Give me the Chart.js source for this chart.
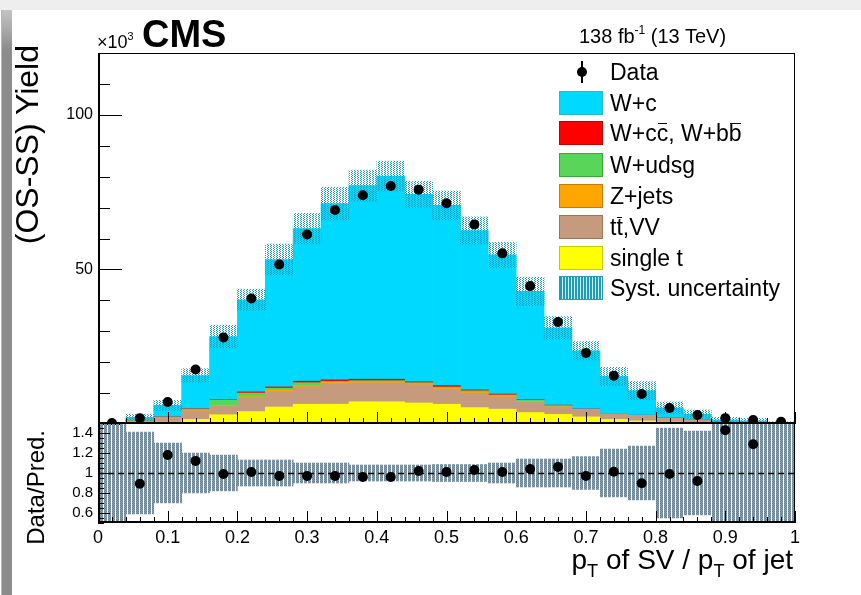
<!DOCTYPE html>
<html>
<head>
<meta charset="utf-8">
<script src="https://cdn.jsdelivr.net/npm/chart.js@4.4.1/dist/chart.umd.min.js"></script>
<style>
  body { margin: 0; background: #fff; width: 861px; height: 595px; overflow: hidden; position: relative;
         font-family: "Liberation Sans", Arial, Helvetica, sans-serif; color: #000; }
  .abs { position: absolute; white-space: nowrap; }
  #topbar { left: 0; top: 0; width: 861px; height: 10px; background: #eeeeee; }
  #leftbar { left: 1px; top: 10px; width: 10px; height: 585px; background: linear-gradient(#c4c4c4, #8c8c8c 40px, #8c8c8c); border-left: 1px solid #b5b5b5; }
  .ob { position: relative; }
  .ob::after { content: ''; position: absolute; left: 1px; right: 1px; top: 3px; border-top: 1.5px solid #000; }
  .leg { position: absolute; left: 610px; font-size: 23px; line-height: 26px; white-space: nowrap; }
  .box { position: absolute; left: 559px; width: 42px; height: 22px; border: 1px solid; }
  sup { font-size: 60%; vertical-align: 0.75em; line-height: 0; }
  sub { font-size: 65%; vertical-align: -0.45em; line-height: 0; }
</style>
</head>
<body>
<div id="topbar" class="abs"></div>
<div id="leftbar" class="abs"></div>
<canvas id="mainChart" class="abs" width="861" height="425" style="left:0;top:0"></canvas>
<canvas id="ratioChart" class="abs" width="861" height="175" style="left:0;top:420px"></canvas>

<div class="abs" style="left:142px;top:15px;font-size:38px;font-weight:bold;line-height:38px">CMS</div>
<div class="abs" style="left:97px;top:33px;font-size:18px;line-height:18px">&times;10<sup>3</sup></div>
<div class="abs" style="left:579px;top:26px;font-size:20px;line-height:20px">138 fb<sup>-1</sup> (13 TeV)</div>

<div class="abs" style="left:9px;top:305px;width:260px;text-align:right;font-size:32px;line-height:36px;transform-origin:0 0;transform:rotate(-90deg)">(OS-SS) Yield</div>
<div class="abs" style="left:22px;top:580px;width:150px;text-align:right;font-size:24px;line-height:28px;transform-origin:0 0;transform:rotate(-90deg)">Data/Pred.</div>
<div class="abs" style="right:68px;top:544px;font-size:28px;line-height:32px">p<sub>T</sub> of SV / p<sub>T</sub> of jet</div>

<!-- legend -->
<div class="abs" style="left:581px;top:61px;width:2px;height:22px;background:#000"></div>
<div class="abs" style="left:577px;top:67px;width:10px;height:10px;border-radius:50%;background:#000"></div>
<div class="leg" style="top:59px">Data</div>
<div class="box" style="top:91px;background:#00d9ff;border-color:#2ab7cf"></div>
<div class="leg" style="top:90px">W+c</div>
<div class="box" style="top:121px;background:#ff0000;border-color:#c00000"></div>
<div class="leg" style="top:120px">W+c<span class="ob">c</span>, W+b<span class="ob">b</span></div>
<div class="box" style="top:153px;background:#59d659;border-color:#38a838"></div>
<div class="leg" style="top:152px">W+udsg</div>
<div class="box" style="top:184px;background:#ffa500;border-color:#c47f00"></div>
<div class="leg" style="top:183px">Z+jets</div>
<div class="box" style="top:215px;background:#c59a7d;border-color:#9c7258"></div>
<div class="leg" style="top:214px">t<span class="ob">t</span>,VV</div>
<div class="box" style="top:246px;background:#ffff00;border-color:#c8c800"></div>
<div class="leg" style="top:245px">single t</div>
<div class="box" style="top:276px;background:repeating-linear-gradient(90deg,#1e9cb6 0 2px,#cdeef4 2px 3px);border-color:#1e9cb6"></div>
<div class="leg" style="top:275px">Syst. uncertainty</div>

<script>
// bins of width 0.04 in pT(SV)/pT(jet)
const binCenters = [0.02, 0.06, 0.10, 0.14, 0.18, 0.22, 0.26, 0.30, 0.34, 0.38, 0.42, 0.46, 0.50,
                    0.54, 0.58, 0.62, 0.66, 0.70, 0.74, 0.78, 0.82, 0.86, 0.90, 0.94, 0.98];

// yields in units of 10^3
const dataY  = [0.3, 1.9, 7.1, 17.6, 28.0, 40.6, 51.6, 61.3, 69.2, 74.0, 77.0, 75.8, 71.4,
                64.5, 55.2, 44.6, 33.0, 23.0, 15.6, 9.7, 5.2, 2.9, 1.9, 1.3, 0.7];
const singleT = [0.03, 0.2, 0.6, 1.5, 3.0, 4.0, 5.5, 6.4, 6.4, 7.2, 7.2, 6.8, 6.4,
                 5.3, 4.8, 3.7, 3.1, 2.3, 1.5, 1.0, 0.6, 0.35, 0.2, 0.12, 0.08];
const ttVV   = [0.05, 0.7, 1.2, 2.7, 2.8, 4.5, 5.0, 5.6, 6.7, 6.1, 6.1, 5.9, 4.9,
                4.7, 4.0, 3.4, 2.4, 2.1, 1.6, 1.6, 1.2, 0.85, 0.4, 0.28, 0.2];
const zJets  = [0.01, 0.05, 0.1, 0.15, 0.2, 0.3, 0.4, 0.35, 0.3, 0.3, 0.3, 0.3, 0.25,
                0.25, 0.2, 0.2, 0.15, 0.1, 0.08, 0.05, 0.04, 0.03, 0.02, 0.01, 0.01];
const wUdsg  = [0.01, 0.1, 0.3, 0.4, 1.7, 1.2, 0.7, 1.0, 0.4, 0.4, 0.4, 0.35, 0.4,
                0.5, 0.4, 0.4, 0.3, 0.25, 0.2, 0.15, 0.1, 0.08, 0.05, 0.03, 0.02];
const wCCbb  = [0.01, 0.05, 0.1, 0.15, 0.2, 0.4, 0.4, 0.5, 0.5, 0.5, 0.5, 0.3, 0.5,
                0.3, 0.3, 0.2, 0.15, 0.1, 0.08, 0.05, 0.04, 0.03, 0.02, 0.01, 0.01];
const wC     = [0.04, 1.03, 3.72, 10.8, 20.4, 29.8, 41.2, 49.35, 57.0, 62.6, 65.7, 60.65, 58.25,
                51.55, 45.0, 35.0, 25.0, 18.85, 11.94, 7.95, 3.27, 1.81, 0.64, 0.56, 0.03];

// relative uncertainties: hatched band on the stack, and band in the ratio panel
const systRel  = [1.0, 0.5, 0.27, 0.14, 0.13, 0.085, 0.094, 0.078, 0.074, 0.065, 0.06, 0.057, 0.066,
                  0.07, 0.074, 0.107, 0.117, 0.125, 0.19, 0.27, 0.36, 0.44, 0.6, 0.8, 1.0];
const ratioUnc = [1.0, 0.41, 0.3, 0.2, 0.18, 0.13, 0.13, 0.1, 0.1, 0.08, 0.08, 0.08, 0.085,
                  0.085, 0.1, 0.14, 0.14, 0.165, 0.24, 0.27, 0.45, 0.42, 1.0, 1.0, 1.0];

const mainYTicks = [50, 100];
const ratioYTicks = [0.6, 0.8, 1, 1.2, 1.4];

const FONT = '"Liberation Sans", Arial, Helvetica, sans-serif';

const pred = binCenters.map((_, i) => singleT[i] + ttVV[i] + zJets[i] + wUdsg[i] + wCCbb[i] + wC[i]);
const ratio = binCenters.map((_, i) => dataY[i] / pred[i]);
const pts = arr => binCenters.map((x, i) => ({x: x, y: arr[i]}));
const fmt = v => String(Math.round(v * 10) / 10);

function makePattern(cols, w, h) {
  const c = document.createElement('canvas');
  c.width = w; c.height = h;
  const g = c.getContext('2d');
  for (let x = 0; x < w - 1; x++) {
    for (let y = 0; y < h; y++) {
      const col = cols[(x + y) % cols.length];
      if (!col) continue;
      g.fillStyle = col;
      g.fillRect(x, y, 1, 1);
    }
  }
  return g.createPattern(c, 'repeat');
}
const hatchMain = makePattern(['#1e9cb6', null], 3, 2);
const hatchRatio = makePattern(['#8a9eab', '#6c8392'], 4, 2);

// no extra label padding at the axis ends, the layout is fixed
function noPad(s) {
  s.paddingTop = 0; s.paddingBottom = 0; s.paddingLeft = 0; s.paddingRight = 0;
}

// ROOT-like frame with inward ticks
function rootFrame(cfg) {
  return {
    id: 'rootFrame',
    afterDatasetDraw(chart, args) {
      if (cfg.refLine === undefined || args.index !== cfg.refAfter) return;
      const {ctx, chartArea: a, scales} = chart;
      const py = Math.round(scales.y.getPixelForValue(cfg.refLine)) + 0.5;
      ctx.save();
      ctx.strokeStyle = '#000';
      ctx.lineWidth = 1.5;
      ctx.setLineDash([6, 4]);
      ctx.beginPath();
      ctx.moveTo(a.left, py); ctx.lineTo(a.right, py);
      ctx.stroke();
      ctx.restore();
    },
    afterDatasetsDraw(chart) {
      const {ctx, chartArea: a, scales} = chart;
      ctx.save();
      ctx.strokeStyle = '#000';
      ctx.lineWidth = 1;
      ctx.strokeRect(Math.round(a.left) + 0.5, Math.round(a.top) + 0.5,
                     Math.round(a.width) - 1, Math.round(a.height) - 1);
      ctx.beginPath();
      for (let k = 0; k <= 50; k++) {
        const px = Math.round(scales.x.getPixelForValue(k / 50)) + 0.5;
        const len = k % 5 === 0 ? cfg.xMajor : cfg.xMinor;
        ctx.moveTo(px, a.bottom); ctx.lineTo(px, a.bottom - len);
      }
      const n = Math.round((cfg.yMax - cfg.yMin) / cfg.yStep);
      for (let k = 0; k <= n; k++) {
        const v = cfg.yMin + k * cfg.yStep;
        const py = Math.round(scales.y.getPixelForValue(v)) + 0.5;
        const q = (v - cfg.yMajorBase) / cfg.yMajorStep;
        const len = Math.abs(q - Math.round(q)) < 1e-6 ? cfg.yMajor : cfg.yMinor;
        ctx.moveTo(a.left, py); ctx.lineTo(a.left + len, py);
      }
      ctx.stroke();
      ctx.lineWidth = 2;
      ctx.beginPath();
      ctx.moveTo(a.left + 1, a.top); ctx.lineTo(a.left + 1, a.bottom);
      ctx.moveTo(a.left, a.bottom - 1); ctx.lineTo(a.right, a.bottom - 1);
      ctx.stroke();
      ctx.restore();
    }
  };
}

const barOpts = {barPercentage: 1, categoryPercentage: 1, borderWidth: 0};

new Chart(document.getElementById('mainChart').getContext('2d'), {
  type: 'bar',
  data: {
    datasets: [
      {type: 'scatter', label: 'Data', data: pts(dataY), pointRadius: 5, pointBackgroundColor: '#000',
       pointBorderWidth: 0, order: 0},
      {label: 'Syst. uncertainty', ...barOpts, grouped: false, stack: 'syst', order: 1,
       data: binCenters.map((x, i) => ({x: x, y: [pred[i] * (1 - systRel[i]), pred[i] * (1 + systRel[i])]})),
       backgroundColor: hatchMain},
      {label: 'single t', ...barOpts, stack: 'mc', order: 2, data: pts(singleT), backgroundColor: '#ffff00'},
      {label: 'tt,VV', ...barOpts, stack: 'mc', order: 3, data: pts(ttVV), backgroundColor: '#c59a7d'},
      {label: 'Z+jets', ...barOpts, stack: 'mc', order: 4, data: pts(zJets), backgroundColor: '#ffa500'},
      {label: 'W+udsg', ...barOpts, stack: 'mc', order: 5, data: pts(wUdsg), backgroundColor: '#59d659'},
      {label: 'W+cc, W+bb', ...barOpts, stack: 'mc', order: 6, data: pts(wCCbb), backgroundColor: '#ff0000'},
      {label: 'W+c', ...barOpts, stack: 'mc', order: 7, data: pts(wC), backgroundColor: '#00d9ff'}
    ]
  },
  options: {
    responsive: false,
    animation: false,
    layout: {autoPadding: false, padding: {left: 0, right: 66, top: 53, bottom: 1}},
    plugins: {legend: {display: false}, tooltip: {enabled: false}},
    scales: {
      x: {type: 'linear', min: 0, max: 1, offset: false, display: false},
      y: {
        type: 'linear', min: 0, max: 120, stacked: true,
        afterFit(s) { s.width = 98; noPad(s); },
        afterBuildTicks(s) { s.ticks = mainYTicks.map(v => ({value: v})); },
        grid: {display: false, drawTicks: false},
        border: {display: false},
        ticks: {padding: 5, color: '#000', font: {size: 16, family: FONT}}
      }
    }
  },
  plugins: [rootFrame({xMajor: 12, xMinor: 6, yMin: 0, yMax: 120, yStep: 10,
                       yMajorBase: 0, yMajorStep: 50, yMajor: 24, yMinor: 12})]
});

new Chart(document.getElementById('ratioChart').getContext('2d'), {
  type: 'bar',
  data: {
    datasets: [
      {type: 'scatter', label: 'Data/Pred.', data: pts(ratio), pointRadius: 5, pointBackgroundColor: '#000',
       pointBorderWidth: 0, order: 0},
      {label: 'Uncertainty', ...barOpts, order: 1,
       data: binCenters.map((x, i) => ({x: x, y: [1 - ratioUnc[i], 1 + ratioUnc[i]]})),
       backgroundColor: hatchRatio}
    ]
  },
  options: {
    responsive: false,
    animation: false,
    layout: {autoPadding: false, padding: {left: 0, right: 66, top: 3, bottom: 42}},
    plugins: {legend: {display: false}, tooltip: {enabled: false}},
    scales: {
      x: {
        type: 'linear', min: 0, max: 1, offset: false,
        afterFit(s) { s.height = 30; noPad(s); },
        grid: {display: false, drawTicks: false},
        border: {display: false},
        ticks: {stepSize: 0.1, padding: 4, maxRotation: 0, autoSkip: false, color: '#000',
                font: {size: 18, family: FONT}, callback: fmt}
      },
      y: {
        type: 'linear', min: 0.5, max: 1.5,
        afterFit(s) { s.width = 98; noPad(s); },
        afterBuildTicks(s) { s.ticks = ratioYTicks.map(v => ({value: v})); },
        grid: {display: false, drawTicks: false},
        border: {display: false},
        ticks: {padding: 5, color: '#000', font: {size: 15, family: FONT}, callback: fmt}
      }
    }
  },
  plugins: [rootFrame({xMajor: 12, xMinor: 6, yMin: 0.5, yMax: 1.5, yStep: 0.05,
                       yMajorBase: 0.6, yMajorStep: 0.2, yMajor: 12, yMinor: 6,
                       refLine: 1, refAfter: 1})]
});
</script>
</body>
</html>
